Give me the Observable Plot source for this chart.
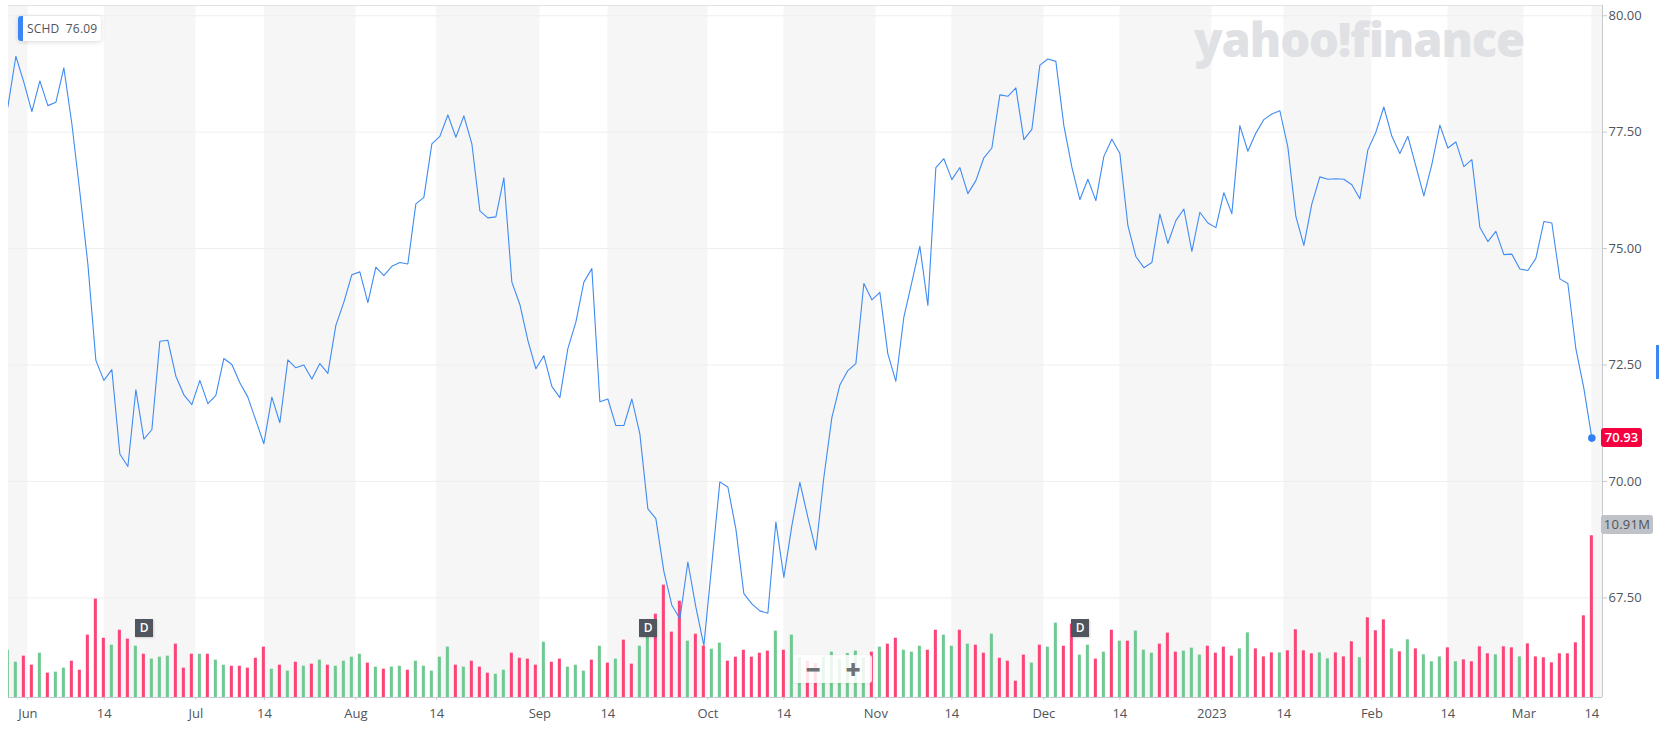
<!DOCTYPE html>
<html>
<head>
<meta charset="utf-8">
<script src="https://cdn.jsdelivr.net/npm/d3@7"></script>
<script src="https://cdn.jsdelivr.net/npm/@observablehq/plot@0.6"></script>
<style>
html,body{margin:0;padding:0;background:#fff;overflow:hidden}
#wrap{position:relative;width:1659px;height:738px;font-family:"Open Sans",sans-serif;overflow:hidden}
#wrap svg{position:absolute;left:0;top:0}
.ov{position:absolute;box-sizing:border-box}
.tag{font-size:13px;line-height:19px;border-radius:3px;text-align:center}
</style>
</head>
<body>
<div id="wrap"></div>
<script>
const closes = [
78.04,79.13,78.57,77.94,78.60,78.07,78.14,78.88,77.68,76.21,
74.67,72.60,72.17,72.40,70.59,70.32,71.97,70.91,71.11,73.01,
73.03,72.26,71.86,71.65,72.17,71.67,71.85,72.64,72.51,72.12,
71.81,71.31,70.81,71.81,71.26,72.61,72.44,72.50,72.20,72.53,
72.32,73.35,73.85,74.44,74.50,73.84,74.60,74.42,74.62,74.70,
74.67,75.96,76.10,77.25,77.41,77.87,77.39,77.85,77.25,75.81,
75.66,75.68,76.52,74.28,73.80,73.03,72.42,72.70,72.04,71.80,
72.85,73.42,74.28,74.57,71.71,71.77,71.20,71.20,71.77,71.02,
69.41,69.20,68.07,67.34,67.05,68.27,67.30,66.48,68.23,69.99,
69.88,68.98,67.59,67.37,67.22,67.17,69.13,67.94,69.05,69.98,
69.23,68.53,70.09,71.37,72.07,72.38,72.53,74.25,73.90,74.06,
72.74,72.15,73.53,74.28,75.05,73.78,76.74,76.93,76.48,76.74,
76.18,76.46,76.95,77.16,78.30,78.27,78.45,77.34,77.56,78.94,
79.07,79.02,77.64,76.75,76.05,76.49,76.03,76.98,77.35,77.04,
75.50,74.83,74.59,74.70,75.74,75.11,75.60,75.85,74.94,75.78,
75.55,75.45,76.20,75.75,77.64,77.09,77.48,77.77,77.89,77.96,
77.18,75.69,75.07,75.96,76.54,76.49,76.50,76.49,76.37,76.07,
77.12,77.50,78.04,77.41,77.04,77.41,76.77,76.13,76.81,77.65,
77.16,77.29,76.76,76.91,75.46,75.15,75.37,74.87,74.88,74.56,
74.53,74.79,75.58,75.55,74.35,74.25,72.85,72.00,70.93];

const volumes = [
3.19,2.38,2.79,2.18,2.99,1.64,1.71,1.98,2.45,1.84,
4.21,6.64,4.00,3.53,4.54,3.94,3.46,2.92,2.59,2.72,
2.79,3.60,1.98,2.92,2.92,2.92,2.52,2.18,2.11,2.11,
1.98,2.65,3.40,1.91,2.18,1.78,2.38,2.11,2.25,2.52,
2.18,2.11,2.45,2.72,2.92,2.32,2.05,1.91,2.05,2.11,
1.84,2.45,2.11,1.78,2.72,3.40,2.18,2.05,2.45,2.05,
1.64,1.57,1.84,2.99,2.65,2.59,2.18,3.73,2.38,2.59,
2.05,2.18,1.78,2.52,3.46,2.32,2.59,3.87,2.25,3.46,
4.32,5.62,7.58,4.41,6.50,3.80,4.27,3.46,3.26,3.67,
2.45,2.72,3.19,2.72,2.99,3.13,4.48,3.19,4.21,2.70,
2.45,2.29,2.70,3.06,2.56,2.97,3.13,2.70,3.06,3.40,
3.60,4.00,3.19,3.06,3.46,3.19,4.54,4.21,3.46,4.54,
3.60,3.53,2.99,4.27,2.65,2.45,1.10,2.86,2.32,3.53,
3.40,5.02,3.46,4.95,2.86,3.53,2.59,3.06,4.54,3.80,
3.80,4.48,3.19,2.99,3.60,4.34,3.06,3.13,3.33,2.86,
3.46,2.99,3.40,2.79,3.28,4.36,3.28,2.74,3.01,3.01,
3.15,4.57,3.15,2.95,3.01,2.61,3.01,2.74,3.76,2.68,
5.38,4.50,5.24,3.28,3.08,3.89,3.28,2.88,2.41,2.74,
3.35,2.41,2.54,2.41,3.42,2.95,2.88,3.42,3.35,2.74,
3.62,2.74,2.68,2.34,2.95,2.95,3.69,5.51,10.91];

const volumeDirs =
"ggrrgrggrr"+"rrrgrrgrgg"+"grrrgrggrr"+"rrrgrgrgrg"+"rgggg"+"rgrggrg"+
"ggggrgrrrg"+"grrrrgrrgg"+"grgrgrrg"+
"grrrrgrrgg"+"rrrrrrgrggrrg"+"gggggrgrrgg"+"grrggrgrrg"+"rrrrgrggrr"+
"ggrgrgrggg"+"rrrgggrrrr"+"ggrrrg"+"rrrrggrrrg"+"rrrgrgrggg"+"rgrrrrgrrg";

const tickPositions = [2.5,12.05,23.5,32.08,43.5,53.6,66.5,75,87.5,97,108.5,118,129.5,139,150.5,159.5,170.5,180,189.5,198];
const tickLabels = ["Jun","14","Jul","14","Aug","14","Sep","14","Oct","14","Nov","14","Dec","14","2023","14","Feb","14","Mar","14"];
const bandStarts = [0.08,12.05,32.08,53.6,75,97,118,139,159.5,180,198];
const bandEnds   = [2.5,23.5,43.5,66.5,87.5,108.5,129.5,150.5,170.5,189.5,199.33];
const priceTicks = [67.5,70,72.5,75,77.5,80];
const volumeMarkers = [17,80,134];

const priceBase = 65.36, priceTop = 80.22, dollarsPerMillion = 0.3183;
const xMin = 0.08, xMax = 199.33;

const rows = closes.map((c,i)=>({i,close:c,volume:volumes[i]}));
const upRows = rows.filter(d=>volumeDirs[d.i]==="g");
const downRows = rows.filter(d=>volumeDirs[d.i]!=="g");
const barOpts = {x1:d=>d.i-0.19,x2:d=>d.i+0.19,y1:priceBase,y2:d=>priceBase+d.volume*dollarsPerMillion,clip:true};

const plot = Plot.plot({
  width:1659,height:738,
  marginLeft:8,marginRight:57,marginTop:5,marginBottom:41,
  style:{fontFamily:'"Open Sans",sans-serif',fontSize:"13px",color:"#50555b",background:"#fff",overflow:"visible"},
  x:{type:"linear",domain:[xMin,xMax]},
  y:{domain:[priceBase,priceTop]},
  marks:[
    Plot.rect(bandStarts,{x1:d=>d,x2:(d,i)=>bandEnds[i],y1:priceBase,y2:priceTop,fill:"#f6f6f6"}),
    Plot.ruleY(priceTicks,{stroke:"#eeeeee",strokeWidth:1}),
    Plot.rect(upRows,{...barOpts,fill:"#70c992"}),
    Plot.rect(downRows,{...barOpts,fill:"#fb4578"}),
    Plot.line(rows,{x:"i",y:"close",stroke:"#3f8bf3",strokeWidth:1.1,curve:"linear",clip:true}),
    Plot.dot([rows[rows.length-1]],{x:"i",y:"close",r:3.8,fill:"#2f80f5"}),
    Plot.ruleY([priceTop],{stroke:"#e0e3e6",strokeWidth:1}),
    Plot.ruleY([priceBase],{stroke:"#c6c9cd",strokeWidth:1}),
    Plot.ruleX([xMax],{stroke:"#c6c9cd",strokeWidth:1}),
    Plot.axisY({anchor:"right",ticks:priceTicks,tickFormat:d3.format(".2f"),tickSize:4,tickPadding:2,label:null,fontSize:13,color:"#50555b",stroke:"#c6c9cd"}),
    Plot.axisX({anchor:"bottom",ticks:tickPositions,tickFormat:(d,i)=>tickLabels[i],tickSize:3,tickPadding:8,label:null,fontSize:13,color:"#50555b",stroke:"#c6c9cd"})
  ]
});
const wrap = document.getElementById("wrap");
wrap.appendChild(plot);
const sx = plot.scale("x"), sy = plot.scale("y");

function ov(css,text,cls){
  const e=document.createElement("div");
  e.className="ov"+(cls?" "+cls:"");
  e.style.cssText=css;
  if(text!=null)e.textContent=text;
  wrap.appendChild(e);
  return e;
}
/* watermark */
ov('left:1194px;top:11px;font-size:47px;line-height:56px;font-weight:800;letter-spacing:-1.1px;color:#dfe1e5;white-space:nowrap;font-family:"Open Sans",sans-serif',"yahoo!finance");
/* symbol chip */
ov('left:18px;top:16px;width:83px;height:25px;background:#fff;border-radius:3px;box-shadow:0 1px 5px rgba(0,0,0,.16);border-left:5px solid #3b86f6;font-size:12px;line-height:25px;color:#50555b;padding-left:4px;white-space:nowrap;word-spacing:3px;letter-spacing:.2px',"SCHD 76.09");
/* last-price and last-volume tags */
ov(`left:1601px;top:${sy.apply(70.93)-9.5}px;width:41px;height:19px;background:#f5013f;color:#fff;font-weight:600`,"70.93","tag");
ov('left:1601px;top:515px;width:52px;height:19px;background:#bfc2c7;color:#50555b;letter-spacing:.3px',"10.91M","tag");
/* dividend markers */
for(const m of volumeMarkers){
  ov(`left:${sx.apply(m)-8.3}px;top:619px;width:18px;height:18px;background:#50555e;color:#fff;font-size:12px;font-weight:600;line-height:18px;text-align:center;box-shadow:1px 1px 2px rgba(0,0,0,.15)`,"D");
}
/* zoom buttons */
ov('left:793px;top:655px;width:79px;height:28px;background:rgba(255,255,255,.85);border-radius:3px;box-shadow:0 1px 3px rgba(0,0,0,.06)');
ov('left:803px;top:654px;font-size:26px;line-height:30px;font-weight:800;color:#6e7277;width:20px;text-align:center',"−");
ov('left:843px;top:654px;font-size:26px;line-height:30px;font-weight:800;color:#6e7277;width:20px;text-align:center',"+");
/* edge handle */
ov('left:1656px;top:345px;width:3px;height:34px;background:#3b86f6');
</script>
</body>
</html>
